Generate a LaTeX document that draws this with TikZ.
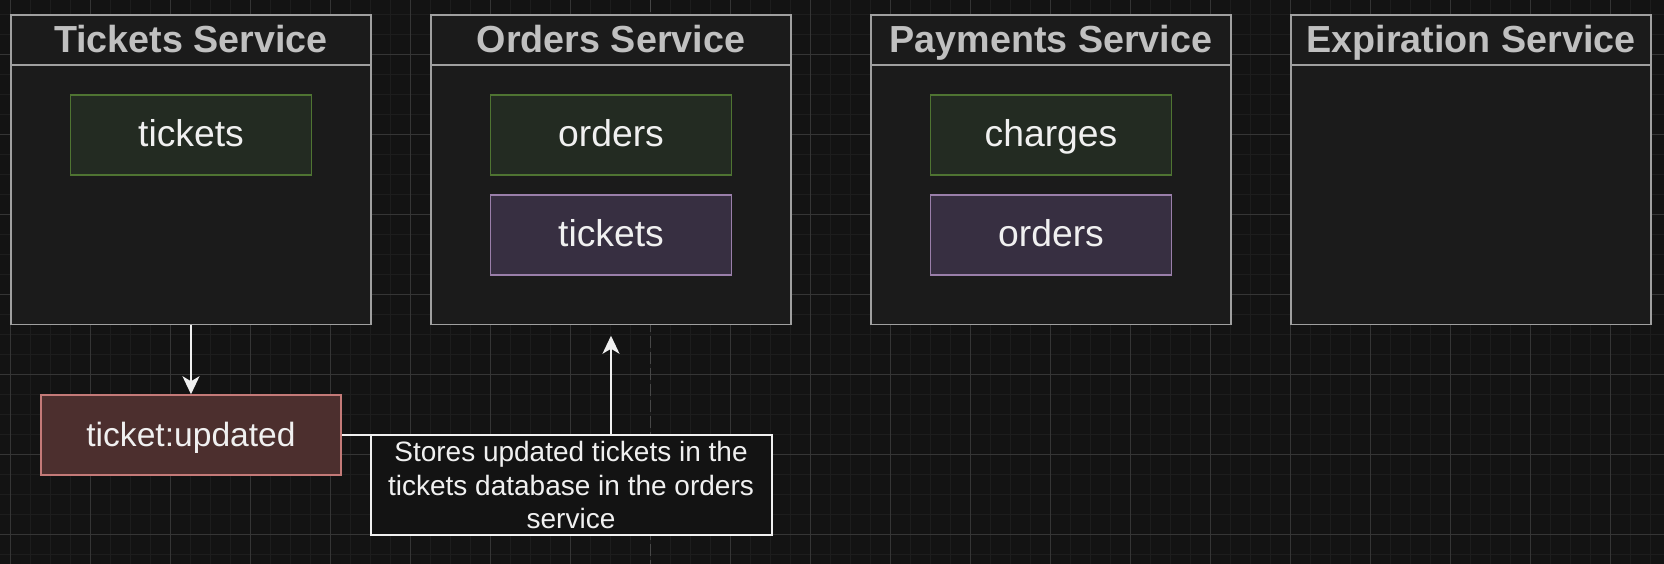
\documentclass[tikz,border=0pt]{standalone}
\usepackage{fontspec}
\setmainfont{Liberation Sans}
\usetikzlibrary{arrows.meta}
\definecolor{bg}{HTML}{131313}
\definecolor{gridminor}{HTML}{1D1D1D}
\definecolor{gridmajor}{HTML}{353535}
\definecolor{pagebreak}{HTML}{474747}
\definecolor{svcfill}{HTML}{1B1B1B}
\definecolor{svcline}{HTML}{A0A0A0}
\definecolor{hdrtext}{HTML}{C0C0C0}
\definecolor{txt}{HTML}{F0F0F0}
\definecolor{grfill}{HTML}{232B22}
\definecolor{grline}{HTML}{4F7432}
\definecolor{pufill}{HTML}{372F41}
\definecolor{puline}{HTML}{9A7FAA}
\definecolor{evfill}{HTML}{4C2F2E}
\definecolor{evline}{HTML}{C47A78}
\tikzset{
  svcbox/.style={draw=svcline, fill=svcfill, line width=1.5pt, minimum width=360pt, minimum height=309.5pt, inner sep=0pt},
  hdrbox/.style={draw=svcline, fill=svcfill, line width=1.5pt, minimum width=360pt, minimum height=50pt, inner sep=0pt, anchor=north, text=hdrtext, font=\fontsize{37.7}{44}\selectfont\bfseries, text height=28.5pt, text depth=3.1pt},
  dbbox/.style={line width=1.5pt, minimum width=241pt, minimum height=80pt, inner sep=0pt, text=txt, font=\fontsize{37.3}{44}\selectfont, text height=28pt, text depth=4.6pt},
  greenbox/.style={dbbox, draw=grline, fill=grfill},
  purplebox/.style={dbbox, draw=puline, fill=pufill},
  eventbox/.style={draw=evline, fill=evfill, line width=1.5pt, minimum width=300pt, minimum height=80pt, inner sep=0pt, text=txt, font=\fontsize{33.6}{40}\selectfont, text height=25pt, text depth=3pt},
  notebox/.style={draw=txt, fill=bg, line width=2pt, minimum width=401pt, minimum height=100pt, inner sep=0pt, align=center, text=txt, font=\fontsize{28}{33.3}\selectfont},
  arr/.style={draw=txt, line width=2pt, -{Stealth[length=18pt, width=17pt, inset=5pt]}}
}
\begin{document}
\begin{tikzpicture}[x=1pt, y=-1pt]
\fill[bg] (0,0) rectangle (1664,564);
\useasboundingbox (0,0) rectangle (1664,564);
% grid
\foreach \i in {0,...,82} \draw[gridminor, line width=1.2pt] (10.7+20*\i,0) -- ++(0,564);
\foreach \i in {0,...,27} \draw[gridminor, line width=1.2pt] (0,14.3+20*\i) -- ++(1664,0);
\foreach \i in {0,...,7,9,10,...,20} \draw[gridmajor, line width=0.9pt] (10.7+80*\i,0) -- ++(0,564);
\foreach \i in {0,...,6} \draw[gridmajor, line width=0.9pt] (0,54.3+80*\i) -- ++(1664,0);
\draw[pagebreak, line width=1pt, dash pattern=on 12pt off 4pt] (650.7,0) -- (650.7,564);

% services
\node[svcbox] (ts) at (191,169.75) {};
\node[hdrbox] (tsh) at (ts.north) {Tickets Service};
\node[svcbox] (os) at (611,169.75) {};
\node[hdrbox] (osh) at (os.north) {Orders Service};
\node[svcbox] (ps) at (1051,169.75) {};
\node[hdrbox] (psh) at (ps.north) {Payments Service};
\node[svcbox] (es) at (1471,169.75) {};
\node[hdrbox] (esh) at (es.north) {Expiration Service};

% collections
\node[greenbox] (tstickets) at (191,135) {tickets};
\node[greenbox] (osorders) at (611,135) {orders};
\node[purplebox] (ostickets) at (611,235) {tickets};
\node[greenbox] (pscharges) at (1051,135) {charges};
\node[purplebox] (psorders) at (1051,235) {orders};

% event
\node[eventbox] (tu) at (191,435) {ticket:updated};
\node[notebox] (note) at (571,485) {Stores updated tickets in the\\tickets database in the orders\\service};

\draw[arr] (ts.south) -- (tu.north);
\draw[arr, shorten >=10.5pt] (tu.east) -| (os.south);
\end{tikzpicture}
\end{document}
